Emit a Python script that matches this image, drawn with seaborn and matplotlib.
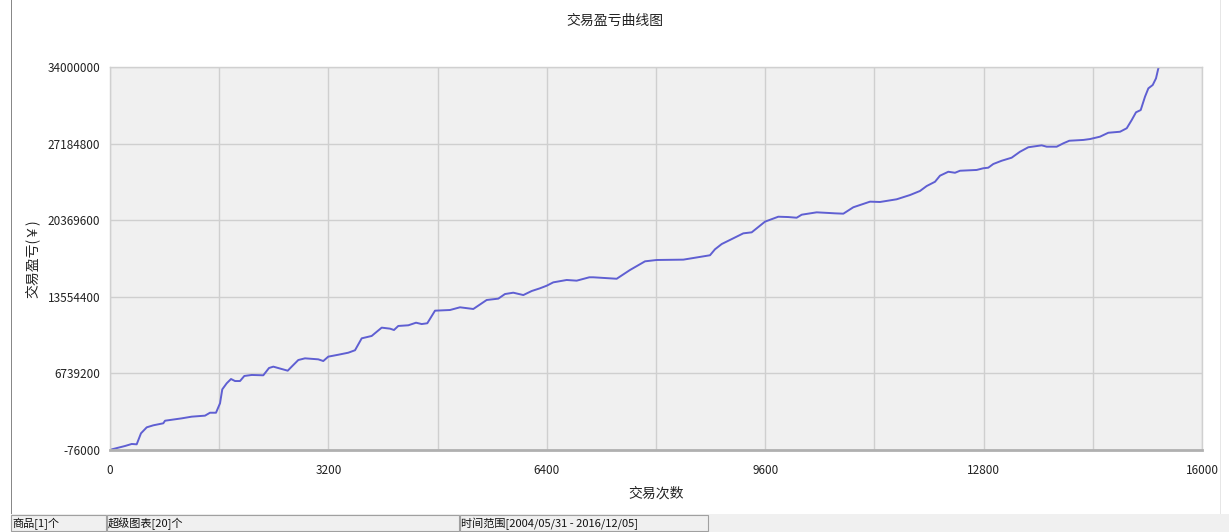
import pandas as pd
import matplotlib.pyplot as plt
import seaborn as sns
from matplotlib.patches import Rectangle
from matplotlib.ticker import MultipleLocator

# cumulative profit/loss
trade_no = [0, 122, 220, 318, 391, 454, 538, 634, 781, 806, 1051, 1197, 1392,
            1465, 1553, 1612, 1645, 1710, 1773, 1832, 1905, 1968, 2076, 2246,
            2330, 2393, 2516, 2604, 2662, 2759, 2857, 3052, 3125, 3198, 3345,
            3491, 3590, 3688, 3834, 3981, 4103, 4161, 4224, 4371, 4484, 4567,
            4649, 4762, 4982, 5128, 5323, 5519, 5689, 5787, 5909, 6056, 6179,
            6300, 6398, 6495, 6691, 6838, 7023, 7081, 7424, 7619, 7839, 8010,
            8400, 8571, 8791, 8864, 8963, 9133, 9279, 9402, 9597, 9792, 9938,
            10061, 10135, 10354, 10539, 10623, 10745, 10891, 11136, 11282,
            11526, 11722, 11868, 11966, 12088, 12161, 12283, 12381, 12454,
            12698, 12795, 12868, 12942, 13065, 13211, 13333, 13455, 13651,
            13725, 13871, 13968, 14056, 14261, 14359, 14505, 14627, 14799,
            14897, 14970, 15033, 15102, 15165, 15214, 15278, 15326, 15360,
            15370]
pnl = [-60000, 130000, 280000, 460000, 430000, 1410000, 1940000, 2120000,
       2300000, 2530000, 2740000, 2890000, 2980000, 3240000, 3240000, 4080000,
       5320000, 5860000, 6240000, 6060000, 6060000, 6510000, 6600000, 6570000,
       7220000, 7340000, 7130000, 6980000, 7340000, 7930000, 8080000, 7990000,
       7840000, 8230000, 8400000, 8580000, 8800000, 9860000, 10070000,
       10810000, 10720000, 10600000, 10960000, 11020000, 11250000, 11130000,
       11200000, 12320000, 12380000, 12620000, 12470000, 13270000, 13390000,
       13800000, 13920000, 13710000, 14070000, 14310000, 14540000, 14840000,
       15050000, 14990000, 15290000, 15290000, 15160000, 15940000, 16710000,
       16830000, 16860000, 17030000, 17250000, 17780000, 18250000, 18760000,
       19200000, 19290000, 20240000, 20680000, 20650000, 20590000, 20860000,
       21070000, 21010000, 20980000, 20950000, 21520000, 22020000, 21990000,
       22230000, 22610000, 22970000, 23410000, 23790000, 24330000, 24680000,
       24590000, 24770000, 24840000, 24990000, 25040000, 25370000, 25660000,
       25930000, 26460000, 26860000, 27030000, 26910000, 26910000, 27210000,
       27440000, 27510000, 27590000, 27800000, 28150000, 28240000, 28550000,
       29280000, 29970000, 30170000, 31360000, 32100000, 32400000, 32990000,
       33880000, 34000000]

y_ticks = [-76000, 6739200, 13554400, 20369600, 27184800, 34000000]
x_ticks = [0, 3200, 6400, 9600, 12800, 16000]

title = '交易盈亏曲线图'
x_label = '交易次数'
y_label = '交易盈亏(￥)'
status_items = ['商品[1]个', '超级图表[20]个', '时间范围[2004/05/31 - 2016/12/05]']

sns.set_style('whitegrid', {'axes.facecolor': '#f0f0f0', 'grid.color': '#cfcfcf'})
plt.rcParams['font.family'] = ['Noto Sans CJK SC', 'DejaVu Sans']

df = pd.DataFrame({'trade': trade_no, 'pnl': pnl})

fig = plt.figure(figsize=(12.29, 5.32), dpi=100)
ax = fig.add_axes([110 / 1229, 1 - 450 / 532, 1092 / 1229, 383 / 532])

sns.lineplot(data=df, x='trade', y='pnl', ax=ax, color='#5f5fd2', linewidth=1.4)

ax.set_xlim(0, 16000)
ax.set_ylim(y_ticks[0], y_ticks[-1])
ax.set_xticks(x_ticks)
ax.set_xticklabels([str(t) for t in x_ticks])
ax.xaxis.set_minor_locator(MultipleLocator(1600))
ax.set_yticks(y_ticks)
ax.set_yticklabels([str(t) for t in y_ticks])
ax.grid(True, which='both', axis='x', color='#cfcfcf', linewidth=1)
ax.grid(True, which='major', axis='y', color='#cfcfcf', linewidth=1)
ax.tick_params(axis='both', which='both', direction='out', length=4, width=1,
               color='#c0c0c0', labelsize=8.5, labelcolor='#222222', pad=3)
ax.tick_params(axis='x', which='major', pad=6)

for side in ['top', 'right', 'left']:
    ax.spines[side].set_color('#d0d0d0')
    ax.spines[side].set_linewidth(1)
ax.spines['bottom'].set_color('#b0b0b0')
ax.spines['bottom'].set_linewidth(2)

ax.set_xlabel(x_label, fontsize=10, color='#222222')
ax.xaxis.set_label_coords(0.5, -37 / 383)
ax.set_ylabel(y_label, fontsize=10, color='#222222')
ax.yaxis.set_label_coords(-70 / 1092, 0.5)
fig.text(0.5, 1 - 21 / 532, title, ha='center', va='center', fontsize=10, color='#222222')

# window frame lines and the status bar under the chart
fig.add_artist(Rectangle((11 / 1229, 18 / 532), 1 / 1229, 514 / 532,
                         transform=fig.transFigure, color='#888888', lw=0))
fig.add_artist(Rectangle((1220 / 1229, 18 / 532), 1 / 1229, 514 / 532,
                         transform=fig.transFigure, color='#e6e6e6', lw=0))
fig.add_artist(Rectangle((11 / 1229, 0), 1218 / 1229, 18 / 532,
                         transform=fig.transFigure, color='#f0f0f0', lw=0))
boxes = [(11, 95), (107, 352), (460, 248)]
for (bx, bw), label in zip(boxes, status_items):
    fig.add_artist(Rectangle((bx / 1229, 1 / 532), bw / 1229, 16 / 532,
                             transform=fig.transFigure, facecolor='#f0f0f0',
                             edgecolor='#a0a0a0', lw=0.8))
    fig.text((bx + 1) / 1229, 8 / 532, label, ha='left', va='center',
             fontsize=8, color='#111111')

fig.savefig('out.png', dpi=100)
